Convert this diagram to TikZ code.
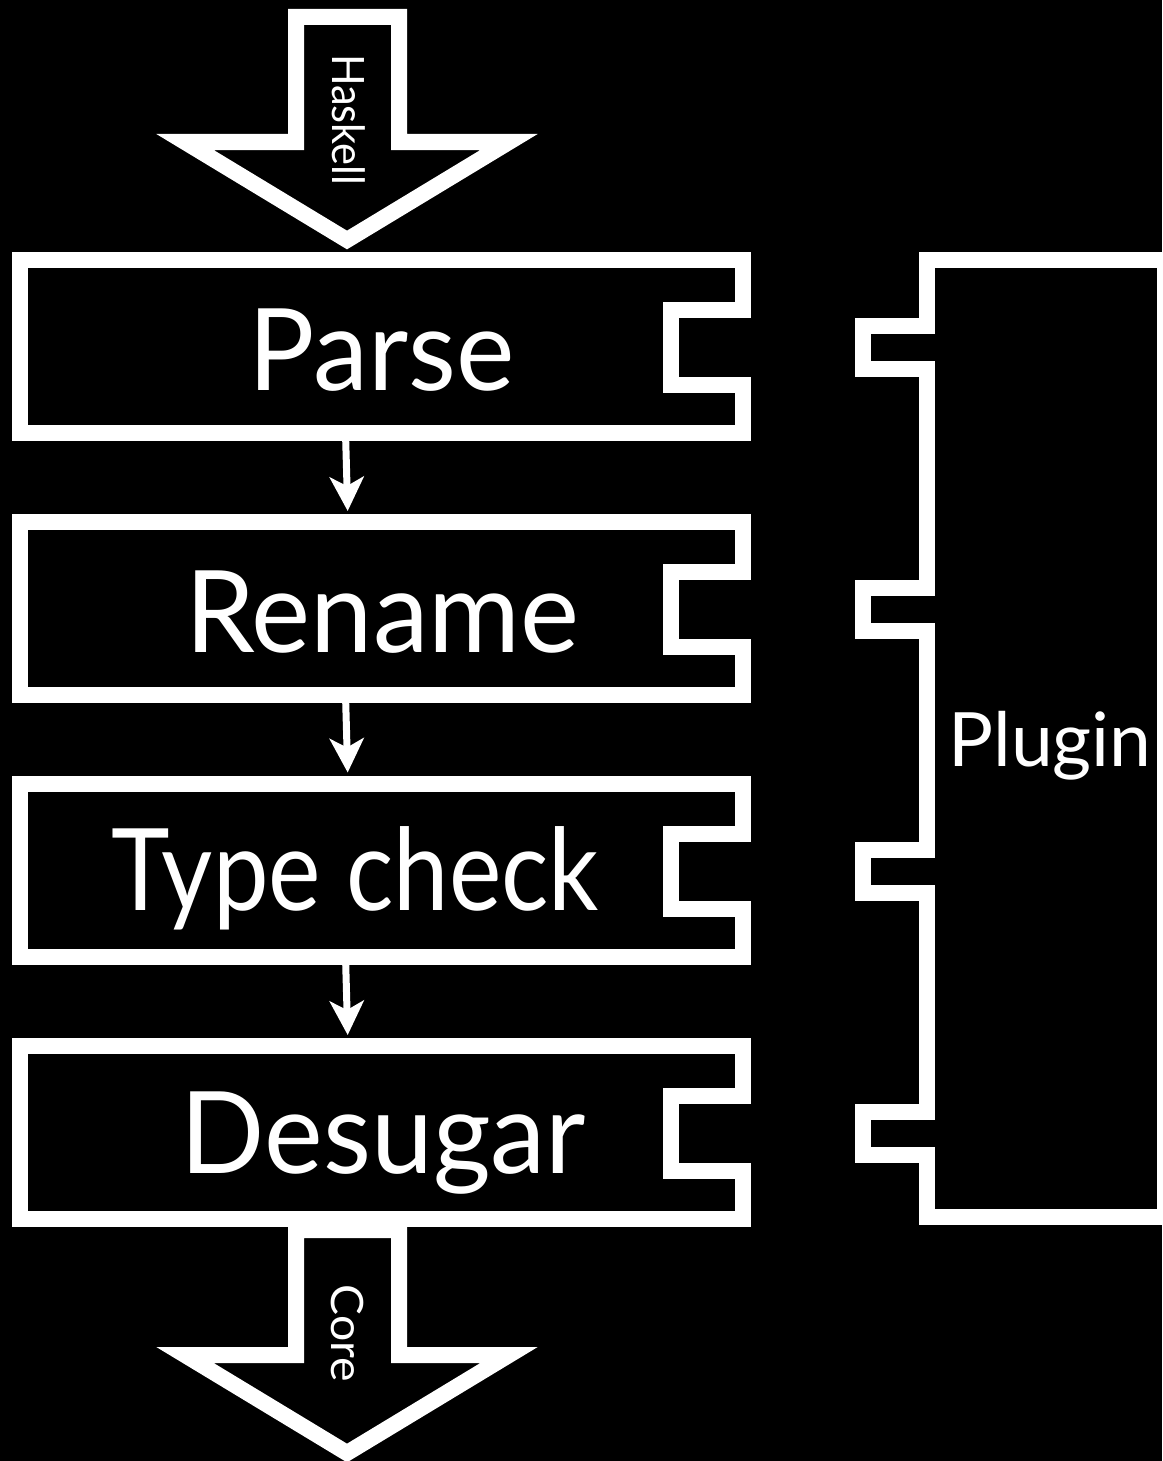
\documentclass[tikz,border=0pt]{standalone}
\usepackage{fontspec}
\setmainfont{Lato}
\usetikzlibrary{calc,arrows.meta}
\begin{document}
\begin{tikzpicture}[x=1pt,y=1pt,
  outline/.style={draw=white, line width=16pt, line join=miter, miter limit=10},
  stagebox/.style={minimum width=723pt, minimum height=173pt, inner sep=0pt, outer sep=0pt},
  stagelabel/.style={text=white, font=\fontsize{114}{114}\selectfont, inner sep=0pt, anchor=base},
  pluginlabel/.style={text=white, font=\fontsize{75}{75}\selectfont, inner sep=0pt, anchor=base},
  flowlabel/.style={text=white, font=\fontsize{44.6}{44.6}\selectfont, inner sep=0pt, anchor=base, rotate=-90},
  conn/.style={draw=white, line width=7pt, shorten >=11pt, -{Stealth[length=34pt,width=34pt,inset=9pt]}},
]
\useasboundingbox (0,0) rectangle (1162,-1461);
\fill[black] (0,0) rectangle (1162,-1461);

% stages
\node[stagebox] (parse) at (381.5,-346.5) {};
\node[stagebox] (rename) at (381.5,-608.5) {};
\node[stagebox] (typecheck) at (381.5,-870) {};
\node[stagebox] (desugar) at (381.5,-1132.5) {};

\foreach \s in {parse,rename,typecheck,desugar}{
  \draw[outline] (\s.north west) -- (\s.north east) -- ++(0,-50) -- ++(-72,0)
    -- ++(0,-75) -- ++(72,0) -- (\s.south east) -- (\s.south west) -- cycle;
}

\node[stagelabel] (parsetext) at (381.5,-390) {\scalebox{0.97}[1]{Parse}};
\node[stagelabel] (renametext) at (382.5,-652) {\scalebox{0.98}[1]{Rename}};
\node[stagelabel] (typechecktext) at (355.5,-910) {\scalebox{0.87}[1]{Type check}};
\node[stagelabel] (desugartext) at (383.5,-1173) {\scalebox{0.973}[1]{Desugar}};

% plugin
\node[minimum width=238pt, minimum height=957pt, inner sep=0pt, outer sep=0pt] (plugin) at (1046,-738.5) {};
\draw[outline] (plugin.north west) -- (plugin.north east) -- (plugin.south east) -- (plugin.south west)
  -- ($(plugin.west |- desugar.north)+(0,-109)$) -- ++(-64,0) -- ++(0,43) -- ++(64,0)
  -- ($(plugin.west |- typecheck.north)+(0,-109)$) -- ++(-64,0) -- ++(0,43) -- ++(64,0)
  -- ($(plugin.west |- rename.north)+(0,-109)$) -- ++(-64,0) -- ++(0,43) -- ++(64,0)
  -- ($(plugin.west |- parse.north)+(0,-109)$) -- ++(-64,0) -- ++(0,43) -- ++(64,0)
  -- cycle;
\node[pluginlabel] (plugintext) at (1050,-766) {Plugin};

% input / output arrows
\draw[outline] (296,-17) -- (399,-17) -- (399,-142) -- (509,-142) -- (347,-240)
  -- (185,-142) -- (296,-142) -- cycle;
\draw[outline] (296,-1230) -- (399,-1230) -- (399,-1355) -- (509,-1355) -- (347,-1453)
  -- (185,-1355) -- (296,-1355) -- cycle;
\node[flowlabel] (haskell) at (332,-119.5) {\scalebox{0.93}[1]{Haskell}};
\node[flowlabel] (core) at (331,-1333.5) {\scalebox{1.04}[1]{Core}};

% connectors
\coordinate (axistop) at (345.5,0);
\coordinate (axisbot) at (348,0);
\draw[conn] (parse.south -| axistop) -- (rename.north -| axisbot);
\draw[conn] (rename.south -| axistop) -- (typecheck.north -| axisbot);
\draw[conn] (typecheck.south -| axistop) -- (desugar.north -| axisbot);
\end{tikzpicture}
\end{document}
